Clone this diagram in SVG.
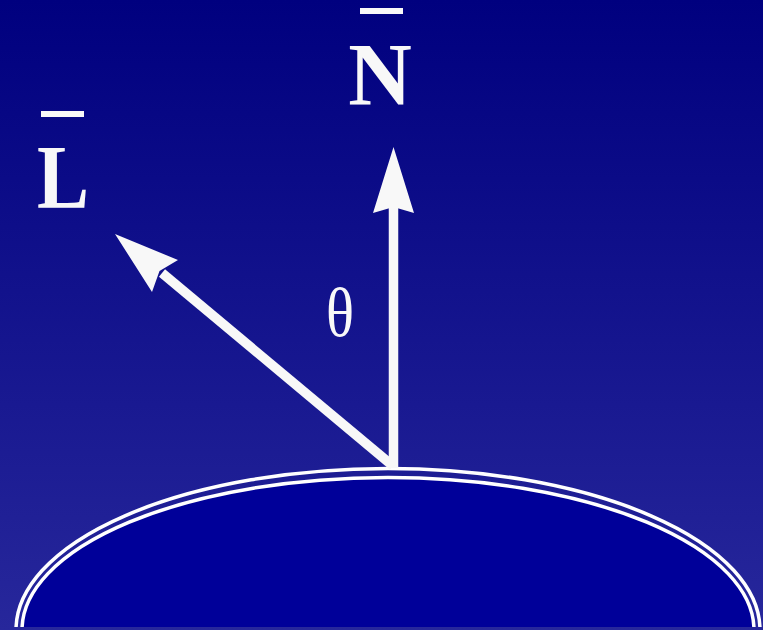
<svg xmlns="http://www.w3.org/2000/svg" width="763" height="630" viewBox="0 0 763 630">
<defs>
<linearGradient id="bg" x1="0" y1="0" x2="0" y2="1">
<stop offset="0" stop-color="#00007f"/>
<stop offset="1" stop-color="#27279b"/>
</linearGradient>
<clipPath id="clip"><rect x="0" y="0" width="763" height="627"/></clipPath>
<style>
.lbl{font-family:"Liberation Serif","Times New Roman",serif;fill:#f8f8f8}
.bar{fill:#f8f8f8}
.shaft{stroke:#f8f8f8;stroke-width:9.5;fill:none}
.head{fill:#f8f8f8}
.rim{fill:none;stroke:#ffffff;stroke-width:3.5}
</style>
</defs>
<rect width="763" height="630" fill="url(#bg)"/>
<g id="surface" clip-path="url(#clip)">
<ellipse cx="388" cy="630" rx="366" ry="152.5" fill="#000099"/>
<ellipse class="rim" cx="388" cy="630" rx="372" ry="161.5"/>
<ellipse class="rim" cx="388" cy="630" rx="366" ry="152.5"/>
</g>
<g id="connectors">
<line class="shaft" x1="393.5" y1="468" x2="393.5" y2="205"/>
<polygon class="head" points="393.5,147 414,213 393.5,207 373,213"/>
<line class="shaft" x1="393" y1="466" x2="162" y2="273"/>
<polygon class="head" points="115,234 178,260 159.5,271 152,292"/>
</g>
<g id="N">
<rect class="bar" x="360" y="8" width="43" height="6"/>
<text class="lbl" x="380" y="104" font-size="88" font-weight="bold" text-anchor="middle">N</text>
</g>
<g id="L">
<rect class="bar" x="41" y="111" width="43" height="6"/>
<text class="lbl" x="37" y="208" font-size="90" font-weight="bold" textLength="52" lengthAdjust="spacingAndGlyphs">L</text>
</g>
<g id="theta">
<text class="lbl" x="340" y="336" font-size="70" text-anchor="middle" textLength="28" lengthAdjust="spacingAndGlyphs">θ</text>
</g>
</svg>
